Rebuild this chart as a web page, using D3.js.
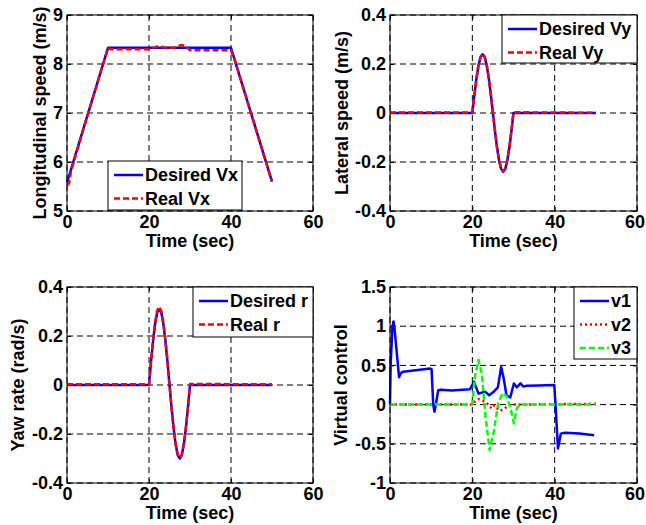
<!DOCTYPE html>
<html>
<head>
<meta charset="utf-8">
<script src="https://cdn.jsdelivr.net/npm/d3@7"></script>
<style>
  body { margin: 0; background: #fff; }
  svg text { font-family: "Liberation Sans", Arial, sans-serif; font-weight: bold; font-size: 18px; fill: #000; }
</style>
</head>
<body>
<svg id="chart" width="646" height="525"></svg>
<script>
// ---- data ----
var timeTicks = [0, 20, 40, 60];

// longitudinal speed
var vxDesT = [0, 10, 40, 50];
var vxDes  = [5.58, 8.33, 8.33, 5.6];
var vxRealT = [0, 0.5, 1, 5, 10, 10.6, 12, 20, 21, 22.5, 24, 26, 28, 29, 30, 35, 40, 41, 45, 50];
var vxReal  = [5.53, 5.56, 5.82, 6.95, 8.33, 8.30, 8.30, 8.30, 8.33, 8.37, 8.33, 8.33, 8.39, 8.36, 8.28, 8.28, 8.28, 8.06, 6.97, 5.6];
var vxTicks = [5, 6, 7, 8, 9];
var vxTickLabels = ['5', '6', '7', '8', '9'];

// lateral speed
var swayT  = [0, 20, 20.5, 21, 21.5, 22, 22.5, 23, 23.5, 24, 24.5, 25, 25.5, 26, 26.5, 27, 27.5, 28, 28.5, 29, 29.5, 30, 50];
var vyDes  = [0, 0, 0.074, 0.141, 0.194, 0.228, 0.24, 0.228, 0.194, 0.141, 0.074, 0, -0.074, -0.141, -0.194, -0.228, -0.24, -0.228, -0.194, -0.141, -0.074, 0, 0];
var vyReal = [0.002, 0.002, 0.07, 0.14, 0.196, 0.23, 0.242, 0.23, 0.196, 0.142, 0.075, 0.002, -0.072, -0.14, -0.193, -0.227, -0.238, -0.226, -0.19, -0.138, -0.07, 0.003, 0.001];
var vyTicks = [-0.4, -0.2, 0, 0.2, 0.4];
var vyTickLabels = ['-0.4', '-0.2', '0', '0.2', '0.4'];

// yaw rate
var rDes  = [0, 0, 0.096, 0.18, 0.25, 0.295, 0.31, 0.295, 0.25, 0.18, 0.096, 0, -0.093, -0.176, -0.243, -0.286, -0.3, -0.286, -0.243, -0.176, -0.093, 0, 0];
var rReal = [0.003, 0.003, 0.1, 0.186, 0.257, 0.305, 0.32, 0.303, 0.255, 0.183, 0.097, 0.002, -0.09, -0.172, -0.24, -0.284, -0.298, -0.283, -0.24, -0.172, -0.09, 0.004, 0.003];
var rTicks = [-0.4, -0.2, 0, 0.2, 0.4];
var rTickLabels = ['-0.4', '-0.2', '0', '0.2', '0.4'];

// virtual control
var v1T = [0, 0.15, 0.6, 0.85, 1.1, 2.2, 2.6, 3.2, 9.8, 10.1, 10.5, 10.8, 11.2, 11.7, 12.3, 15, 19.4, 20.4, 21.5, 23.1, 24.1, 25.1, 26.2, 27, 27.6, 28.3, 29.2, 30.1, 30.8, 31.7, 32.4, 33.2, 36, 39.9, 40.2, 40.8, 41.5, 42.5, 46, 49.6];
var v1  = [0, 0.5, 1.0, 1.06, 0.97, 0.35, 0.4, 0.42, 0.46, 0.45, 0.0, -0.09, 0.02, 0.18, 0.19, 0.18, 0.195, 0.29, 0.14, 0.165, 0.12, 0.16, 0.22, 0.48, 0.34, 0.12, 0.09, 0.27, 0.22, 0.27, 0.23, 0.24, 0.245, 0.25, 0.0, -0.56, -0.37, -0.36, -0.37, -0.39];
var v2T = [0, 20, 21, 21.5, 22.5, 23.5, 24.7, 25.3, 26.7, 27.9, 28.7, 30, 40, 50];
var v2  = [0, 0, 0.06, 0.07, 0.05, 0.02, -0.05, -0.01, -0.08, -0.05, -0.01, 0.0, 0.005, 0.01];
var v3T = [0, 20, 20.6, 21.5, 22.3, 23.2, 24.2, 25.2, 26.3, 27.4, 28.4, 29.3, 30.1, 30.8, 31.5, 40, 50];
var v3  = [0, 0, 0.35, 0.57, 0.4, -0.15, -0.58, -0.35, 0.02, 0.15, 0.1, -0.05, -0.24, -0.05, 0, 0, 0];
var vTicks = [-1, -0.5, 0, 0.5, 1, 1.5];
var vTickLabels = ['-1', '-0.5', '0', '0.5', '1', '1.5'];

var svg = d3.select('#chart');

function zipSeries(t, v) {
  return t.map(function (d, i) { return [d, v[i]]; });
}

function panel(cfg) {
  var x = d3.scaleLinear().domain([0, 60]).range([cfg.left, cfg.right]);
  var y = d3.scaleLinear().domain(cfg.yDomain).range([cfg.bottom, cfg.top]);
  var g = svg.append('g');

  // dashed grid
  g.append('g').selectAll('line').data(timeTicks).join('line')
    .attr('x1', function (d) { return x(d); }).attr('x2', function (d) { return x(d); })
    .attr('y1', cfg.top).attr('y2', cfg.bottom)
    .attr('stroke', '#000').attr('stroke-width', 1).attr('stroke-dasharray', '6,4');
  g.append('g').selectAll('line').data(cfg.yTicks).join('line')
    .attr('x1', cfg.left).attr('x2', cfg.right)
    .attr('y1', function (d) { return y(d); }).attr('y2', function (d) { return y(d); })
    .attr('stroke', '#000').attr('stroke-width', 1).attr('stroke-dasharray', '6,4');

  // axes (ticks point inward, like matlab)
  var xa = g.append('g').attr('transform', 'translate(0,' + cfg.bottom + ')')
    .call(d3.axisBottom(x).tickValues(timeTicks).tickSize(-4).tickPadding(4));
  var ya = g.append('g').attr('transform', 'translate(' + cfg.left + ',0)')
    .call(d3.axisLeft(y).tickValues(cfg.yTicks).tickSize(-4).tickPadding(4)
      .tickFormat(function (d, i) { return cfg.yTickLabels[i]; }));
  [xa, ya].forEach(function (a) {
    a.select('.domain').remove();
    a.selectAll('text').attr('font-size', null).attr('font-family', null);
    a.selectAll('line').attr('stroke', '#000');
  });
  // last time label sits right on the page edge, pull it in a touch
  xa.selectAll('text').filter(function (d) { return d === 60; }).attr('dx', cfg.lastDx || 0);
  g.append('g').attr('transform', 'translate(0,' + cfg.top + ')')
    .call(d3.axisTop(x).tickValues(timeTicks).tickSize(-4).tickFormat(''))
    .select('.domain').remove();
  g.append('g').attr('transform', 'translate(' + cfg.right + ',0)')
    .call(d3.axisRight(y).tickValues(cfg.yTicks).tickSize(-4).tickFormat(''))
    .select('.domain').remove();

  // curves
  var line = d3.line().x(function (d) { return x(d[0]); }).y(function (d) { return y(d[1]); });
  cfg.series.forEach(function (s) {
    g.append('path').datum(zipSeries(s.t, s.v))
      .attr('d', line).attr('fill', 'none')
      .attr('stroke', s.color).attr('stroke-width', 2.5)
      .attr('stroke-dasharray', s.dash || null)
      .attr('stroke-linejoin', 'round');
  });

  // box
  g.append('rect').attr('x', cfg.left).attr('y', cfg.top)
    .attr('width', cfg.right - cfg.left).attr('height', cfg.bottom - cfg.top)
    .attr('fill', 'none').attr('stroke', '#000').attr('stroke-width', 1);

  // labels
  g.append('text').attr('x', (cfg.left + cfg.right) / 2).attr('y', cfg.bottom + 36)
    .attr('text-anchor', 'middle').text('Time (sec)');
  g.append('text')
    .attr('transform', 'translate(' + (cfg.left - cfg.ylabOffset) + ',' + (cfg.top + cfg.bottom) / 2 + ') rotate(-90)')
    .attr('text-anchor', 'middle').attr('dy', '0.35em').text(cfg.yLabel);

  // legend
  var L = cfg.legend;
  var lg = g.append('g').attr('transform', 'translate(' + L.x + ',' + L.y + ')');
  lg.append('rect').attr('width', L.w).attr('height', L.h)
    .attr('fill', '#fff').attr('stroke', '#000').attr('stroke-width', 1);
  cfg.series.forEach(function (s, i) {
    var yy = 14 + i * 23.5;
    lg.append('line').attr('x1', 6).attr('x2', 35).attr('y1', yy).attr('y2', yy)
      .attr('stroke', s.color).attr('stroke-width', 2.5).attr('stroke-dasharray', s.dash || null);
    lg.append('text').attr('x', 37).attr('y', yy).attr('dy', '0.36em').text(s.name);
  });
}

panel({
  left: 67, right: 313, top: 15, bottom: 211,
  yDomain: [5, 9], yTicks: vxTicks, yTickLabels: vxTickLabels,
  yLabel: 'Longitudinal speed (m/s)', ylabOffset: 27,
  series: [
    { name: 'Desired Vx', t: vxDesT, v: vxDes, color: '#0000ff' },
    { name: 'Real Vx', t: vxRealT, v: vxReal, color: '#ff0000', dash: '6,3' }
  ],
  legend: { x: 108, y: 161, w: 134, h: 49 }
});

panel({
  left: 390, right: 637, top: 15, bottom: 211, lastDx: -2.5,
  yDomain: [-0.4, 0.4], yTicks: vyTicks, yTickLabels: vyTickLabels,
  yLabel: 'Lateral speed (m/s)', ylabOffset: 48,
  series: [
    { name: 'Desired Vy', t: swayT, v: vyDes, color: '#0000ff' },
    { name: 'Real Vy', t: swayT, v: vyReal, color: '#ff0000', dash: '6,3' }
  ],
  legend: { x: 502, y: 15, w: 135, h: 48 }
});

panel({
  left: 67, right: 313, top: 287, bottom: 483,
  yDomain: [-0.4, 0.4], yTicks: rTicks, yTickLabels: rTickLabels,
  yLabel: 'Yaw rate (rad/s)', ylabOffset: 49,
  series: [
    { name: 'Desired r', t: swayT, v: rDes, color: '#0000ff' },
    { name: 'Real r', t: swayT, v: rReal, color: '#ff0000', dash: '6,3' }
  ],
  legend: { x: 193, y: 287, w: 120, h: 50 }
});

panel({
  left: 390, right: 637, top: 287, bottom: 483, lastDx: -2.5,
  yDomain: [-1, 1.5], yTicks: vTicks, yTickLabels: vTickLabels,
  yLabel: 'Virtual control', ylabOffset: 49,
  series: [
    { name: 'v1', t: v1T, v: v1, color: '#0000ff' },
    { name: 'v2', t: v2T, v: v2, color: '#ff0000', dash: '2,3' },
    { name: 'v3', t: v3T, v: v3, color: '#00ff00', dash: '6,3' }
  ],
  legend: { x: 574, y: 287, w: 63, h: 72 }
});
</script>
</body>
</html>
